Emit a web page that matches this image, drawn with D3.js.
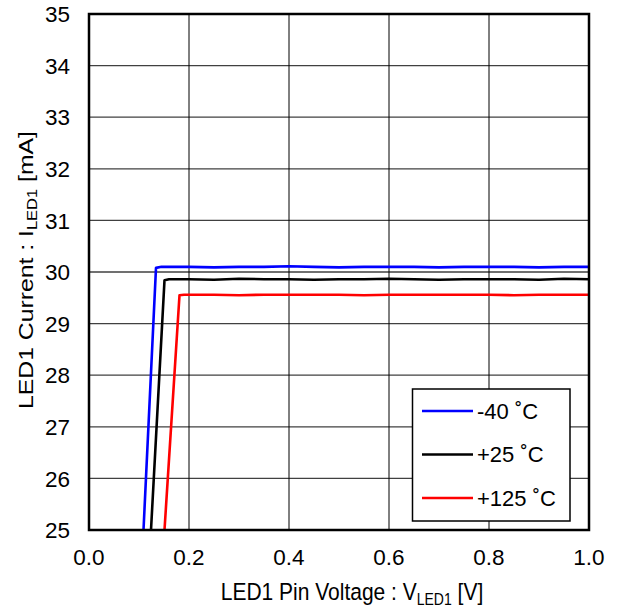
<!DOCTYPE html>
<html><head><meta charset="utf-8">
<script src="https://cdn.jsdelivr.net/npm/d3@7"></script>
<style>body{margin:0;background:#fff}svg{display:block}text{font-family:"Liberation Sans",Arial,sans-serif}</style>
</head><body>
<script>
const xTicks = [0.0, 0.2, 0.4, 0.6, 0.8, 1.0];
const yTicks = [25, 26, 27, 28, 29, 30, 31, 32, 33, 34, 35];
const seriesNames = ["-40 ˚C", "+25 ˚C", "+125 ˚C"];
const seriesColors = ["#0000ff", "#000000", "#ff0000"];
const vBlue = [0.109, 0.134, 0.145, 0.2, 0.25, 0.3, 0.35, 0.4, 0.45, 0.5, 0.55, 0.6, 0.65, 0.7, 0.75, 0.8, 0.85, 0.9, 0.95, 1.0];
const iBlue = [25, 30.08, 30.1, 30.1, 30.09, 30.1, 30.1, 30.11, 30.1, 30.09, 30.1, 30.1, 30.1, 30.09, 30.1, 30.1, 30.1, 30.09, 30.1, 30.1];
const vBlack = [0.124, 0.151, 0.16, 0.2, 0.25, 0.3, 0.35, 0.4, 0.45, 0.5, 0.55, 0.6, 0.65, 0.7, 0.75, 0.8, 0.85, 0.9, 0.95, 1.0];
const iBlack = [25, 29.84, 29.86, 29.86, 29.85, 29.87, 29.86, 29.86, 29.85, 29.86, 29.86, 29.87, 29.86, 29.85, 29.86, 29.86, 29.86, 29.85, 29.87, 29.86];
const vRed = [0.151, 0.181, 0.19, 0.2, 0.25, 0.3, 0.35, 0.4, 0.45, 0.5, 0.55, 0.6, 0.65, 0.7, 0.75, 0.8, 0.85, 0.9, 0.95, 1.0];
const iRed = [25, 29.55, 29.56, 29.56, 29.56, 29.55, 29.56, 29.56, 29.56, 29.56, 29.55, 29.56, 29.56, 29.56, 29.56, 29.56, 29.55, 29.56, 29.56, 29.56];

const W = 621, H = 612;
const m = {l: 89, r: 589, t: 14, b: 530};
const FS = 21, SUB = 14, TICK = 22.5, LEG = 22;
const svg = d3.select("body").append("svg").attr("width", W).attr("height", H);
const x = d3.scaleLinear().domain([0, 1]).range([m.l, m.r]);
const y = d3.scaleLinear().domain([25, 35]).range([m.b, m.t]);

// grid
svg.append("g").selectAll("line").data(yTicks).join("line")
  .attr("x1", m.l).attr("x2", m.r).attr("y1", d => y(d)).attr("y2", d => y(d))
  .attr("stroke", "#404040").attr("stroke-width", 1.3);
svg.append("g").selectAll("line").data(xTicks).join("line")
  .attr("y1", m.t).attr("y2", m.b).attr("x1", d => x(d)).attr("x2", d => x(d))
  .attr("stroke", "#000").attr("stroke-width", 1);

// tick labels
svg.append("g").selectAll("text").data(yTicks).join("text")
  .attr("x", m.l - 19).attr("y", d => y(d)).attr("dy", "0.36em")
  .attr("text-anchor", "end").attr("font-size", TICK).text(d => d);
svg.append("g").selectAll("text").data(xTicks).join("text")
  .attr("x", d => x(d)).attr("y", m.b + 35)
  .attr("text-anchor", "middle").attr("font-size", TICK).text(d => d.toFixed(1));

// lines
const line = d3.line().x(d => x(d[0])).y(d => y(d[1]));
const series = [[vBlue, iBlue], [vBlack, iBlack], [vRed, iRed]];
series.forEach((s, k) => {
  const pts = s[0].map((v, i) => [v, s[1][i]]);
  svg.append("path").attr("d", line(pts)).attr("fill", "none")
    .attr("stroke", seriesColors[k]).attr("stroke-width", 2.6).attr("stroke-linejoin", "round");
});

// frame
svg.append("rect").attr("x", m.l).attr("y", m.t).attr("width", m.r - m.l).attr("height", m.b - m.t)
  .attr("fill", "none").attr("stroke", "#000").attr("stroke-width", 2.5);

// legend
const lg = svg.append("g");
lg.append("rect").attr("x", 412.5).attr("y", 389).attr("width", 157.5).attr("height", 132)
  .attr("fill", "#fff").attr("stroke", "#000").attr("stroke-width", 1.5);
seriesNames.forEach((n, k) => {
  const yy = 411 + k * 43.5;
  lg.append("line").attr("x1", 422).attr("x2", 473).attr("y1", yy).attr("y2", yy)
    .attr("stroke", seriesColors[k]).attr("stroke-width", 2.6);
  lg.append("text").attr("x", 477).attr("y", yy).attr("dy", "0.36em").attr("font-size", LEG).text(n);
});

// axis titles (glyphs slightly stretched vertically as in the reference)
const xt = svg.append("text").attr("transform", "translate(352,600) scale(1,1.18)")
  .attr("text-anchor", "middle").attr("font-size", FS);
xt.append("tspan").text("LED1 Pin Voltage : V");
xt.append("tspan").attr("font-size", SUB).attr("dy", 4).text("LED1");
xt.append("tspan").attr("dy", -4).text(" [V]");
const yt = svg.append("text").attr("transform", "translate(33,270) rotate(-90) scale(1.18,1)")
  .attr("text-anchor", "middle").attr("font-size", FS);
yt.append("tspan").text("LED1 Current : I");
yt.append("tspan").attr("font-size", SUB).attr("dy", 4).text("LED1");
yt.append("tspan").attr("dy", -4).text(" [mA]");
</script>
</body></html>
